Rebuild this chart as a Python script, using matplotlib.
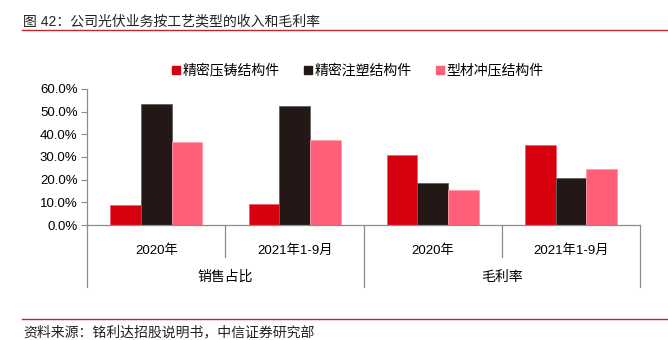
import numpy as np
import matplotlib
matplotlib.use('Agg')
import matplotlib.pyplot as plt
from matplotlib.lines import Line2D
from matplotlib.ticker import FuncFormatter

plt.rcParams['font.family'] = ['Liberation Sans', 'Noto Sans CJK SC', 'DejaVu Sans']

# 数据：销售占比与毛利率（%）
periods = ['2020年', '2021年1-9月', '2020年', '2021年1-9月']
groups = ['销售占比', '毛利率']
series_names = ['精密压铸结构件', '精密注塑结构件', '型材冲压结构件']
die_cast = [8.9, 9.2, 30.7, 35.2]
injection = [53.2, 52.4, 18.5, 20.6]
stamping = [36.4, 37.4, 15.3, 24.7]

colors = ['#D7000F', '#231815', '#FF5F78']
edges = ['#F06070', '#666060', '#FF9AAA']
grey = '#8C8C8C'

fig = plt.figure(figsize=(6.68, 3.4), dpi=100)
ax = fig.add_axes([87.3 / 668, 1 - 225 / 340, (640 - 87.3) / 668, (225 - 88.8) / 340])

x = np.arange(len(periods))
w = 0.222
for i, (vals, c, ec) in enumerate(zip([die_cast, injection, stamping], colors, edges)):
    ax.bar(x + (i - 1) * w, vals, width=w, color=c, edgecolor=ec, linewidth=0.6,
           label=series_names[i], zorder=2)

ax.set_xlim(-0.5, len(periods) - 0.5)
ax.set_ylim(0, 60)
ax.set_yticks(np.arange(0, 61, 10))
ax.yaxis.set_major_formatter(FuncFormatter(lambda v, p: f'{v:.1f}%'))
ax.tick_params(axis='y', length=4, width=0.8, color=grey, labelsize=9.5, pad=3)
ax.set_xticks(x)
ax.set_xticklabels(periods)
ax.tick_params(axis='x', length=0, labelsize=9.5, pad=14)

for s in ['top', 'right']:
    ax.spines[s].set_visible(False)
for s in ['left', 'bottom']:
    ax.spines[s].set_color(grey)
    ax.spines[s].set_linewidth(0.9)

# 分类轴下方的分隔线
tr = ax.get_xaxis_transform()
for xv in np.arange(-0.5, len(periods), 1.0):
    outer = (xv + 0.5) % 2 == 0
    y_end = -0.457 if outer else -0.233
    ax.plot([xv, xv], [0, y_end], color=grey, lw=0.9, transform=tr, clip_on=False)

for gi, g in enumerate(groups):
    ax.text(gi * 2 + 0.5, -0.38, g, transform=tr, ha='center', va='center', fontsize=10)

handles = [Line2D([0], [0], marker='s', ls='', markersize=6, markerfacecolor=c,
                  markeredgecolor=c) for c in colors]
fig.legend(handles, series_names, loc='center', bbox_to_anchor=(357 / 668, 1 - 70.7 / 340),
           ncol=3, frameon=False, fontsize=10, handletextpad=0.1, columnspacing=1.6,
           handlelength=0.8)

fig.text(23 / 668, 1 - 21.7 / 340, '图 42：公司光伏业务按工艺类型的收入和毛利率',
         ha='left', va='center', fontsize=10, color='#222222')
fig.add_artist(Line2D([22 / 668, 1], [1 - 29.5 / 340] * 2, color='#C0272D', lw=1.0))
fig.add_artist(Line2D([22 / 668, 1], [1 - 319 / 340] * 2, color='#C0272D', lw=1.0))
fig.text(23 / 668, 1 - 332.3 / 340, '资料来源：铭利达招股说明书，中信证券研究部',
         ha='left', va='center', fontsize=10, color='#222222')

fig.savefig('out.png', dpi=100)
